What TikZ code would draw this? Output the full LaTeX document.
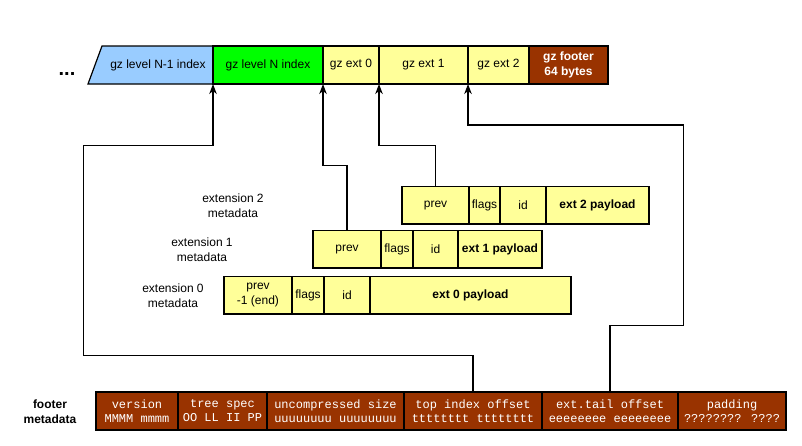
\documentclass[tikz,border=0pt]{standalone}
\usepackage{fontspec}
\setmainfont{Liberation Sans}
\newfontfamily\monof{Liberation Mono}
\usetikzlibrary{arrows.meta}
\definecolor{cblue}{HTML}{99CCFF}
\definecolor{cgreen}{HTML}{00FF00}
\definecolor{cyel}{HTML}{FFFF99}
\definecolor{cbrown}{HTML}{993300}
\tikzset{
  fld/.style={draw=black, line width=1.2pt, inner sep=0pt, outer sep=0pt, align=center,
    font=\fontsize{12}{15}\selectfont},
  yel/.style={fld, fill=cyel},
  brn/.style={fld, fill=cbrown, text=white, font=\monof\fontsize{12}{14}\selectfont},
  lbl/.style={align=center, inner sep=0pt, font=\fontsize{12}{15}\selectfont},
  arr/.style={draw=black, line width=1.2pt, -{Stealth[length=10pt,width=7.5pt,inset=3pt]}},
  ln/.style={draw=black, line width=1.2pt},
}
\begin{document}
\begin{tikzpicture}[x=1pt,y=-1pt]
\useasboundingbox (0,0) rectangle (802,445);
% top row
\fill[cblue] (88,84) -- (102,46) -- (213,46) -- (213,84) -- cycle;
\draw[ln, line join=miter] (213,84) -- (88,84) -- (102,46) -- (213,46);
\node[lbl] (lvN1) at (158,65) {gz level N-1 index};
\node[fld, fill=cgreen, minimum width=110pt, minimum height=38pt] (lvN) at (268,65) {gz level N index};
\node[yel, minimum width=56pt, minimum height=38pt] (gz0) at (351,65) {gz ext 0};
\node[yel, minimum width=89pt, minimum height=38pt] (gz1) at (423.5,65) {gz ext 1};
\node[yel, minimum width=61pt, minimum height=38pt] (gz2) at (498.5,65) {gz ext 2};
\node[fld, fill=cbrown, text=white, font=\bfseries\fontsize{12}{15}\selectfont, minimum width=79pt, minimum height=38pt] (gzf) at (568.5,65) {gz footer\\64 bytes};
\node[inner sep=0pt, font=\bfseries\fontsize{20}{20}\selectfont, anchor=base] (dots) at (67,75) {...};
% extension 2
\node[yel, minimum width=67pt, minimum height=37.5pt] (e2prev) at (435.5,205.25) {prev};
\node[yel, minimum width=31pt, minimum height=37.5pt] (e2flags) at (484.5,205.25) {flags};
\node[yel, minimum width=46pt, minimum height=37.5pt] (e2id) at (523,205.25) {id};
\node[yel, minimum width=103pt, minimum height=37.5pt, font=\bfseries\fontsize{12}{15}\selectfont] (e2pay) at (597.5,205.25) {ext 2 payload};
% extension 1
\node[yel, minimum width=68pt, minimum height=37.5pt] (e1prev) at (347,249.25) {prev};
\node[yel, minimum width=32pt, minimum height=37.5pt] (e1flags) at (397,249.25) {flags};
\node[yel, minimum width=45pt, minimum height=37.5pt] (e1id) at (435.5,249.25) {id};
\node[yel, minimum width=84pt, minimum height=37.5pt, font=\bfseries\fontsize{12}{15}\selectfont] (e1pay) at (500,249.25) {ext 1 payload};
% extension 0
\node[yel, minimum width=68pt, minimum height=37.5pt] (e0prev) at (258,295.25) {prev\\-1 (end)};
\node[yel, minimum width=32pt, minimum height=37.5pt] (e0flags) at (308,295.25) {flags};
\node[yel, minimum width=46pt, minimum height=37.5pt] (e0id) at (347,295.25) {id};
\node[yel, minimum width=201pt, minimum height=37.5pt, font=\bfseries\fontsize{12}{15}\selectfont] (e0pay) at (470.5,295.25) {ext 0 payload};
% labels
\node[lbl] (l2) at (233,205.5) {extension 2\\metadata};
\node[lbl] (l1) at (202,249.5) {extension 1\\metadata};
\node[lbl] (l0) at (173,295.5) {extension 0\\metadata};
\node[lbl, font=\bfseries\fontsize{12}{15}\selectfont] (lf) at (50,411.5) {footer\\metadata};
% footer
\node[brn, minimum width=82pt, minimum height=38pt] (ver) at (137,411) {version\\MMMM mmmm};
\node[brn, minimum width=89pt, minimum height=38pt] (tree) at (222.5,411) {tree spec\\OO LL II PP};
\node[brn, minimum width=137pt, minimum height=38pt] (unc) at (335.5,411) {uncompressed size\\uuuuuuuu uuuuuuuu};
\node[brn, minimum width=138pt, minimum height=38pt] (tio) at (473,411) {top index offset\\tttttttt tttttttt};
\node[brn, minimum width=136pt, minimum height=38pt] (ets) at (610,411) {ext.tail offset\\eeeeeeee eeeeeeee};
\node[brn, minimum width=108pt, minimum height=38pt] (pad) at (732,411) {padding\\???????? ????};
% connectors
\coordinate (c1) at (83.5,355.3);
\coordinate (c2) at (83.5,145.7);
\draw[arr] (tio.north) |- (c1) -- (c2) -| (lvN.south west);
\coordinate (c3) at (683.5,325.3);
\coordinate (c4) at (683.5,125);
\draw[arr] (ets.north) |- (c3) -- (c4) -| (gz2.south west);
\coordinate (c5) at (323,165.7);
\draw[arr] (e1prev.north) |- (c5) -- (gz0.south west);
\coordinate (c6) at (379,145.7);
\draw[arr] (e2prev.north) |- (c6) -- (gz1.south west);
\end{tikzpicture}
\end{document}
